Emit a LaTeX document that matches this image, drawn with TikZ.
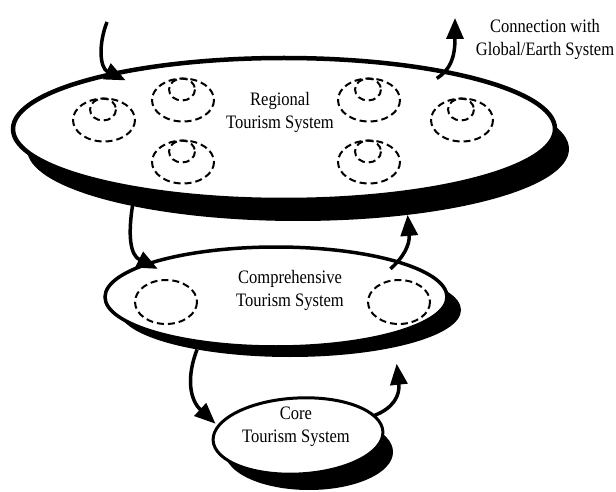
\documentclass[tikz,border=0pt]{standalone}
\usepackage{fontspec}
\setmainfont{Liberation Serif}[FakeStretch=0.87]
\usetikzlibrary{arrows.meta,calc,shapes.geometric}

\begin{document}
\begin{tikzpicture}[x=1pt,y=-1pt,
  sysshape/.style={ellipse, draw=black, fill=white, inner sep=0pt, outer sep=0pt},
  shadowshape/.style={ellipse, fill=black, inner sep=0pt, outer sep=0pt},
  lbl/.style={align=center, font=\fontsize{19}{23}\selectfont, inner sep=0pt},
  link/.style={line width=3.5pt, -{Triangle[length=21pt,width=17pt]}},
  ring/.style={dash pattern=on 7pt off 4pt, line width=2pt}
]
\useasboundingbox (0,0) rectangle (616,492);

% drop shadows of the three levels
\node[shadowshape, minimum width=542pt, minimum height=144pt] (regsh) at (298,149) {};
\node[shadowshape, minimum width=342pt, minimum height=94pt] (compsh) at (290,310) {};
\node[shadowshape, minimum width=168pt, minimum height=76pt] (coresh) at (309,452) {};

% the three system levels
\node[sysshape, line width=4.5pt, minimum width=542pt, minimum height=142pt] (regional) at (284,129) {};
\node[sysshape, line width=3.5pt, minimum width=342pt, minimum height=100pt] (comp) at (276,297) {};
\node[sysshape, line width=3pt, minimum width=170pt, minimum height=76pt, rotate=3] (core) at (298,436) {};

% dashed sub-systems inside the regional level
\foreach \cx/\cy in {104/120, 183/100, 183/162, 369/100, 369/162, 462/120} {
  \draw[ring] (\cx,\cy) ellipse [x radius=31, y radius=21.5];
  \draw[ring] (\cx-1,\cy-10.5) ellipse [x radius=13, y radius=11];
}
% dashed sub-systems inside the comprehensive level
\foreach \cx in {166, 399} {
  \draw[ring] (\cx,302) ellipse [x radius=31, y radius=22];
}

% labels
\node[lbl] (regtxt) at (280,112) {Regional\\Tourism System};
\node[lbl] (comptxt) at (290,290) {Comprehensive\\Tourism System};
\node[lbl] (coretxt) at (296,427) {Core\\Tourism System};
\node[lbl] (globtxt) at (545,39) {Connection with\\Global/Earth System};

% exchange with the global system
\coordinate (inTop) at (107,22);
\coordinate (outTop) at (455,18);
\draw[link] (inTop) .. controls (98,45) and (100,68) .. ($(regional.160.6)+(0,9)$);
\draw[link] ($(regional.21.6)+(0,8)$) .. controls (450,70) and (455,58) .. (outTop);

% regional <-> comprehensive
\draw[link] (regsh.199.6) .. controls (128,235) and (130,255) .. ($(comp.163.9)+(0,8)$);
\draw[link] ($(comp.18.9)+(0,9)$) .. controls (403,258) and (410,245) .. (regsh.329.9);

% comprehensive <-> core
\draw[link] (compsh.203) .. controls (186,378) and (190,400) .. ($(core.168)+(-5,0)$);
\draw[link] (core.12) .. controls (394,408) and (400,395) .. ($(compsh.341.9)+(0,17)$);
\end{tikzpicture}
\end{document}
